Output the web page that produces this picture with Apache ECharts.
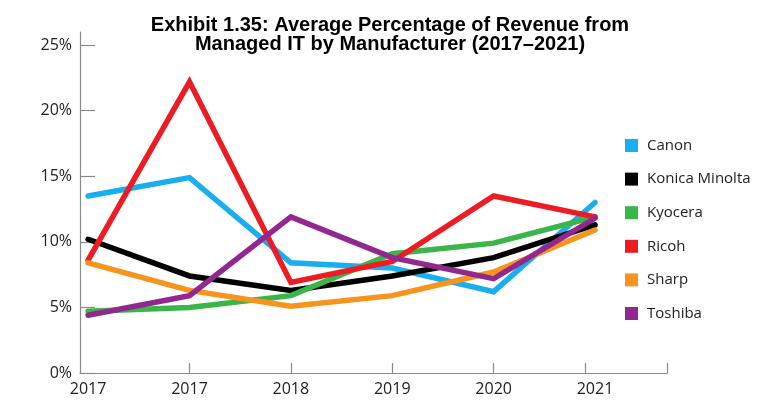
<!DOCTYPE html>
<html>
<head>
<meta charset="utf-8">
<script src="https://cdn.jsdelivr.net/npm/echarts@6/dist/echarts.min.js"></script>
<style>
html,body{margin:0;padding:0;background:#fff;}
#chart{width:780px;height:414px;}
</style>
</head>
<body>
<div id="chart"></div>
<script>
var categories = ['2017', '2017', '2018', '2019', '2020', '2021'];
var yTickLabels = [0, 5, 10, 15, 20, 25];
var seriesNames = ['Canon', 'Konica Minolta', 'Kyocera', 'Ricoh', 'Sharp', 'Toshiba'];
var canon   = [13.5, 14.9, 8.4, 8.0, 6.2, 13.0];
var konica  = [10.2, 7.4, 6.3, 7.4, 8.8, 11.3];
var kyocera = [4.7, 5.0, 5.9, 9.1, 9.9, 11.9];
var ricoh   = [8.6, 22.2, 6.9, 8.5, 13.5, 11.9];
var sharp   = [8.4, 6.3, 5.1, 5.9, 7.7, 10.9];
var toshiba = [4.4, 5.9, 11.9, 8.8, 7.2, 11.8];

var seriesValues = [canon, konica, kyocera, ricoh, sharp, toshiba];
var colors = ['#19AEEF', '#000000', '#39B54A', '#ED1C24', '#F7941D', '#92278F'];

var chart = echarts.init(document.getElementById('chart'));
var axisFont = "'Open Sans', 'DejaVu Sans', sans-serif";

chart.setOption({
  animation: false,
  backgroundColor: '#ffffff',
  title: {
    text: 'Exhibit 1.35: Average Percentage of Revenue from\nManaged IT by Manufacturer (2017\u20132021)',
    left: 'center',
    top: 11,
    textStyle: {
      fontFamily: "'Liberation Sans', Arial, sans-serif",
      fontWeight: 'bold',
      fontSize: 20,
      lineHeight: 19,
      color: '#000',
      align: 'center'
    }
  },
  legend: {
    orient: 'vertical',
    left: 625,
    top: 138,
    padding: 0,
    itemWidth: 13,
    itemHeight: 13,
    itemGap: 18.6,
    icon: 'rect',
    textStyle: {
      fontFamily: axisFont,
      fontSize: 15,
      color: '#222',
      padding: [0, 0, 0, 4]
    },
    data: seriesNames
  },
  grid: {
    left: 80,
    right: 113,
    top: 32,
    bottom: 41,
    containLabel: false
  },
  xAxis: {
    type: 'value',
    min: -0.08,
    max: 5.71,
    axisLine: { show: true, onZero: false, lineStyle: { color: '#8a8a8a', width: 1.2 } },
    axisTick: {
      show: true,
      inside: true,
      length: 10,
      customValues: [1, 2, 3, 4, 4.9, 5.71],
      lineStyle: { color: '#8a8a8a', width: 1.2 }
    },
    axisLabel: {
      customValues: [0, 1, 2, 3, 4, 5],
      formatter: function (v) { return categories[Math.round(v)]; },
      fontFamily: axisFont,
      fontSize: 16,
      color: '#222',
      margin: 8
    },
    splitLine: { show: false }
  },
  yAxis: {
    type: 'value',
    min: 0,
    max: 26,
    axisLine: { show: true, onZero: false, lineStyle: { color: '#8a8a8a', width: 1.2 } },
    axisTick: {
      show: true,
      inside: true,
      length: 15,
      customValues: yTickLabels,
      lineStyle: { color: '#8a8a8a', width: 1.2 }
    },
    axisLabel: {
      customValues: yTickLabels,
      formatter: function (v) { return v + '%'; },
      fontFamily: axisFont,
      fontSize: 16,
      color: '#222',
      margin: 8
    },
    splitLine: { show: false }
  },
  series: seriesNames.map(function (name, k) {
    return {
      name: name,
      type: 'line',
      data: seriesValues[k].map(function (v, i) { return [i, v]; }),
      symbol: 'none',
      color: colors[k],
      lineStyle: { width: 5.5, color: colors[k], cap: 'round', join: 'miter' }
    };
  })
});
</script>
</body>
</html>
